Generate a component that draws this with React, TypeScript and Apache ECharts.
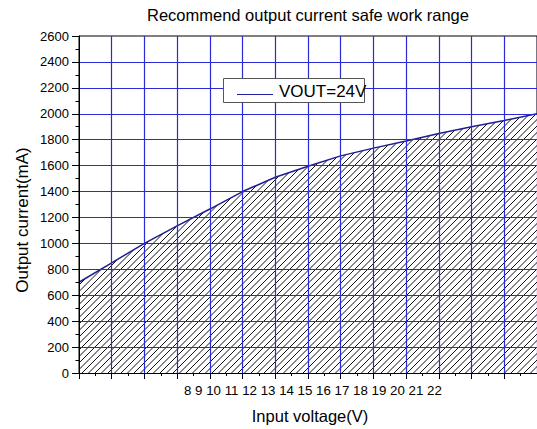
import React, { useEffect, useRef } from 'react';
import * as echarts from 'echarts';

const voltages = [8, 9, 10, 11, 12, 13, 14, 15, 16, 17, 18, 19, 20, 21, 22];
const currents = [700, 850, 1000, 1135, 1265, 1400, 1510, 1595, 1675, 1735, 1790, 1848, 1900, 1948, 2000];
const xTickLabels = ['8', '9', '10', '11', '12', '13', '14', '15', '16', '17', '18', '19', '20', '21', '22'];
const seriesName = 'VOUT=24V';
const titleText = 'Recommend output current safe work range';
const xName = 'Input voltage(V)';
const yName = 'Output current(mA)';

const FONT = '"Liberation Sans", Arial, sans-serif';
const GRID_BLUE = '#2a2ad8';
const CURVE = '#1e1e96';

function makeHatch(): HTMLCanvasElement {
  const s = 13;
  const c = document.createElement('canvas');
  c.width = s;
  c.height = s;
  const ctx = c.getContext('2d')!;
  ctx.fillStyle = '#fff';
  ctx.fillRect(0, 0, s, s);
  ctx.strokeStyle = '#111';
  ctx.lineWidth = 1;
  for (const k of [0, 6.5, 13, 19.5, 26]) {
    ctx.beginPath();
    ctx.moveTo(k - 20, 20);
    ctx.lineTo(k + 20, -20);
    ctx.stroke();
  }
  return c;
}

export default function App() {
  const ref = useRef<HTMLDivElement>(null);
  useEffect(() => {
    if (!ref.current) return;
    const chart = echarts.init(ref.current, undefined, { renderer: 'svg' });
    const hatch = makeHatch();
    chart.setOption({
      animation: false,
      backgroundColor: '#fff',
      title: {
        text: titleText,
        left: 147,
        top: 6,
        padding: 0,
        textStyle: { fontFamily: FONT, fontSize: 16.5, fontWeight: 'normal', color: '#000' },
      },
      grid: {
        left: 79,
        top: 36,
        width: 459,
        height: 337,
        show: true,
        borderColor: '#000',
        borderWidth: 1,
        backgroundColor: 'transparent',
      },
      xAxis: {
        type: 'value',
        min: 8,
        max: 22,
        interval: 1,
        z: 3,
        axisLine: { show: true, onZero: false, lineStyle: { color: '#000', width: 1 } },
        axisTick: { show: true, inside: false, length: 6, lineStyle: { color: '#000' } },
        minorTick: { show: true, splitNumber: 2, length: 3, lineStyle: { color: '#000' } },
        axisLabel: { show: false },
        splitLine: { show: true, showMinLine: false, lineStyle: { color: GRID_BLUE, width: 1.2 } },
      },
      yAxis: {
        type: 'value',
        min: 0,
        max: 2600,
        interval: 200,
        z: 3,
        axisLine: { show: true, onZero: false, lineStyle: { color: '#000', width: 1 } },
        axisTick: { show: true, inside: false, length: 7, lineStyle: { color: '#000' } },
        minorTick: { show: true, splitNumber: 2, length: 3.5, lineStyle: { color: '#000' } },
        axisLabel: {
          fontFamily: FONT,
          fontSize: 13,
          color: '#000',
          margin: 10,
          formatter: (v: number) => String(v),
        },
        splitLine: { show: true, showMinLine: false, showMaxLine: false, lineStyle: { color: GRID_BLUE, width: 1.2 } },
      },
      series: [
        {
          type: 'line',
          name: seriesName,
          data: voltages.map((v, i) => [v, currents[i]]),
          symbol: 'none',
          z: 2,
          lineStyle: { color: CURVE, width: 1.5 },
          areaStyle: { color: { image: hatch, repeat: 'repeat' }, opacity: 1 },
        },
      ],
      graphic: [
        {
          type: 'text',
          left: 184,
          top: 384,
          z: 10,
          style: { text: xTickLabels.join(' '), fontFamily: FONT, fontSize: 13.3, fill: '#000' },
        },
        {
          type: 'text',
          x: 310,
          y: 416,
          z: 10,
          style: { text: xName, fontFamily: FONT, fontSize: 16.5, fill: '#000', align: 'center', verticalAlign: 'middle' },
        },
        {
          type: 'text',
          x: 22,
          y: 220,
          rotation: Math.PI / 2,
          z: 10,
          style: { text: yName, fontFamily: FONT, fontSize: 17, fill: '#000', align: 'center', verticalAlign: 'middle' },
        },
        {
          type: 'rect',
          z: 10,
          shape: { x: 223.5, y: 78.5, width: 141, height: 24 },
          style: { fill: '#fff', stroke: '#555', lineWidth: 1 },
        },
        {
          type: 'line',
          z: 11,
          shape: { x1: 237, y1: 94.5, x2: 273, y2: 94.5 },
          style: { stroke: CURVE, lineWidth: 1 },
        },
        {
          type: 'text',
          x: 279,
          y: 91.5,
          z: 11,
          style: { text: seriesName, fontFamily: FONT, fontSize: 17, fill: '#000', verticalAlign: 'middle' },
        },
      ],
    });
    return () => chart.dispose();
  }, []);
  return (
    <div
      ref={ref}
      style={{ position: 'fixed', left: 0, top: 0, width: 537, height: 429 }}
    />
  );
}
